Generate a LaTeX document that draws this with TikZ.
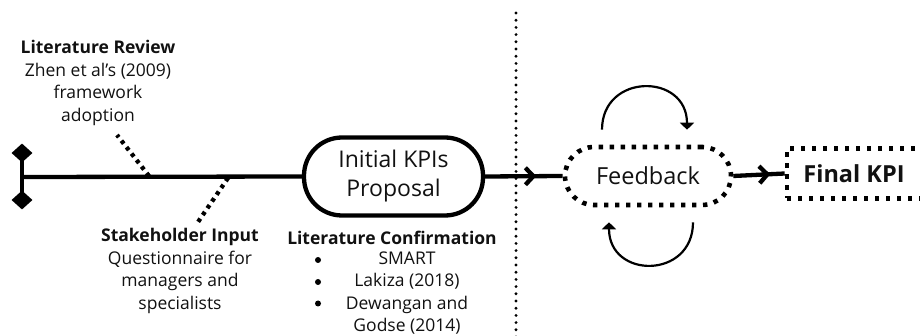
\documentclass[tikz,border=0pt]{standalone}
\usepackage{fontspec}
\setmainfont{Open Sans}
\usetikzlibrary{arrows.meta,decorations.markings,shapes.geometric,calc}
\definecolor{ink}{HTML}{111111}
\begin{document}
\begin{tikzpicture}[x=1pt,y=-1pt,
  every node/.style={text=ink},
  small/.style={font=\fontsize{17.5}{22.5}\selectfont, align=center, inner sep=0pt},
  heading/.style={font=\bfseries\fontsize{17.5}{22.5}\selectfont, inner sep=0pt},
  mainline/.style={line width=4.3pt, draw=black},
  tick/.style={line width=4.3pt, draw=black, dash pattern=on 3.8pt off 4.4pt},
  endcap/.style={diamond, fill=black, inner sep=0pt, minimum width=21pt, minimum height=19pt},
  bulletdot/.style={circle, fill=black, inner sep=0pt, minimum size=6pt},
  pill/.style={draw=black, line width=4.3pt, rounded corners=38pt,
    minimum width=179pt, minimum height=78pt, align=center,
    font=\fontsize{23}{29}\selectfont},
  dotbox/.style={draw=black, line width=4.6pt, dash pattern=on 4.4pt off 6.6pt},
  midarrow/.style={postaction={decorate}, decoration={markings,
    mark=at position #1 with {\arrow{Straight Barb[length=8pt,width=17pt]}}}},
  loopline/.style={line width=2.2pt, draw=black, -{Triangle[length=7pt,width=14pt]}},
  divider/.style={line width=3.2pt, draw=black, line cap=round, dash pattern=on 0pt off 7.2pt}
]
\useasboundingbox (0,0) rectangle (920,336);

% start bar with diamond caps
\node[endcap] (capT) at (22,153) {};
\node[endcap] (capB) at (22,200) {};
\draw[mainline] (capT.center) -- (capB.center);
\coordinate (start) at (22,177);

% initial proposal
\node[pill] (kpi) at (393.5,176.5) {Initial KPIs\\Proposal};
\draw[mainline] (start) -- (kpi.west);

% inputs feeding the main line
\coordinate (lrfoot) at (149,176);
\coordinate (lrend) at (117,135);
\draw[tick] (lrfoot) -- (lrend);
\coordinate (shfoot) at (228,178);
\coordinate (shend) at (198,222);
\draw[tick] (shfoot) -- (shend);

\node[small] (litrev) at (98,83) {\textbf{Literature Review}\\Zhen et al’s (2009)\\framework\\adoption};
\node[small] (stake) at (180,271) {\textbf{Stakeholder Input}\\Questionnaire for\\managers and\\specialists};

% literature confirmation list
\node[heading] (confhead) at (392,238) {Literature Confirmation};
\node[small] (conflist) at (407,293) {SMART\\Lakiza (2018)\\Dewangan and\\Godse (2014)};
\node[bulletdot] (b1) at (318,260) {};
\node[bulletdot] (b2) at (318,282) {};
\node[bulletdot] (b3) at (318,303.5) {};

% phase divider
\coordinate (divtop) at (516,13);
\coordinate (divbot) at (516,340);
\draw[divider] (divtop) -- (divbot);

% feedback stage
\node[dotbox, rounded corners=29pt, minimum width=166pt, minimum height=58pt,
  font=\fontsize{23.5}{28}\selectfont] (fb) at (648,176) {Feedback};
\draw[mainline, midarrow=0.66] (kpi.east) -- (fb.west);

\draw[loopline] ($(fb.north)+(-46,-15)$) .. controls +(0,-57) and +(0,-57) .. ($(fb.north)+(39,-15)$);
\draw[loopline] ($(fb.south)+(45,15)$) .. controls +(0,57) and +(0,57) .. ($(fb.south)+(-39,15)$);

% final result
\node[dotbox, minimum width=138pt, minimum height=50pt,
  font=\bfseries\fontsize{23.5}{28}\selectfont] (final) at (856,173.5) {\hspace*{-2pt}Final KPI\hspace*{2pt}};
\draw[mainline, midarrow=0.72] (fb.east) -- (final.west);
\end{tikzpicture}
\end{document}
